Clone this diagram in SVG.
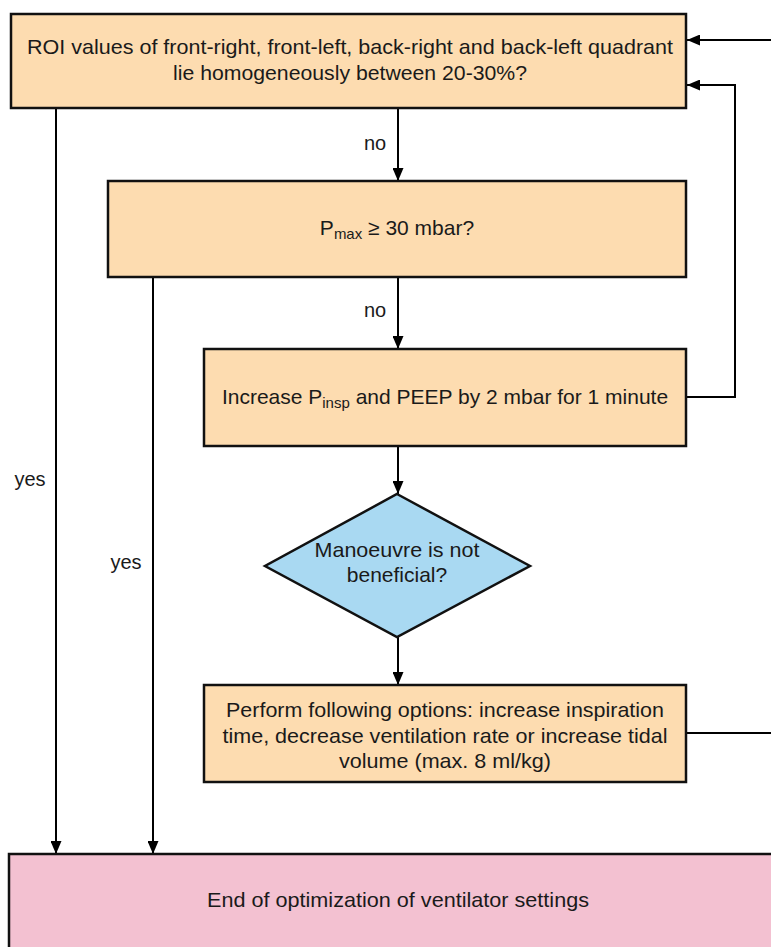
<svg xmlns="http://www.w3.org/2000/svg" width="771" height="947" viewBox="0 0 771 947">
<defs>
<marker id="ah" markerWidth="13" markerHeight="11" refX="13" refY="5.5" orient="auto" markerUnits="userSpaceOnUse">
<path d="M0,0 L13,5.5 L0,11 Z" fill="#000"/>
</marker>
<style>
.box{fill:#FDDCB0;stroke:#111;stroke-width:2.5}
.dia{fill:#A9D9F2;stroke:#111;stroke-width:2.5}
.end{fill:#F3C1D1;stroke:#111;stroke-width:2.5}
.t{font-family:"Liberation Sans",Arial,sans-serif;font-size:21px;fill:#1a1a1a;text-anchor:middle}
.l{font-family:"Liberation Sans",Arial,sans-serif;font-size:20px;fill:#1a1a1a;text-anchor:middle}
.c{fill:none;stroke:#000;stroke-width:2}
</style>
</defs>
<rect width="771" height="947" fill="#fff"/>
<g id="connectors">
<path class="c" d="M771,40 L687,40" marker-end="url(#ah)"/>
<path class="c" d="M686,397 L735,397 L735,85 L687,85" marker-end="url(#ah)"/>
<path class="c" d="M398,108 L398,181" marker-end="url(#ah)"/>
<path class="c" d="M398,277 L398,349" marker-end="url(#ah)"/>
<path class="c" d="M398,446 L398,494" marker-end="url(#ah)"/>
<path class="c" d="M398,637 L398,685" marker-end="url(#ah)"/>
<path class="c" d="M686,733 L771,733"/>
<path class="c" d="M56,108 L56,854" marker-end="url(#ah)"/>
<path class="c" d="M153,277 L153,854" marker-end="url(#ah)"/>
<text class="l" x="375" y="150">no</text>
<text class="l" x="375" y="317">no</text>
<text class="l" x="30" y="486">yes</text>
<text class="l" x="126" y="569">yes</text>
</g>
<g id="n1">
<rect class="box" x="11" y="14" width="675" height="94"/>
<text class="t" x="350" y="54" textLength="646" lengthAdjust="spacingAndGlyphs">ROI values of front-right, front-left, back-right and back-left quadrant</text>
<text class="t" x="350" y="80" textLength="354" lengthAdjust="spacingAndGlyphs">lie homogeneously between 20-30%?</text>
</g>
<g id="n2">
<rect class="box" x="108" y="181" width="578" height="96"/>
<text class="t" x="397" y="235" font-size="21.5">P<tspan font-size="15" dy="4">max</tspan><tspan dy="-4"> ≥ 30 mbar?</tspan></text>
</g>
<g id="n3">
<rect class="box" x="204" y="349" width="482" height="97"/>
<text class="t" x="445" y="404" font-size="21.5">Increase P<tspan font-size="15" dy="4">insp</tspan><tspan dy="-4"> and PEEP by 2 mbar for 1 minute</tspan></text>
</g>
<g id="n4">
<path class="dia" d="M397,494 L530,566 L397,637 L265,566 Z"/>
<text class="t" x="397" y="557" textLength="165" lengthAdjust="spacingAndGlyphs">Manoeuvre is not</text>
<text class="t" x="397" y="582">beneficial?</text>
</g>
<g id="n5">
<rect class="box" x="204" y="685" width="482" height="97"/>
<text class="t" x="445" y="717" textLength="438" lengthAdjust="spacingAndGlyphs">Perform following options: increase inspiration</text>
<text class="t" x="445" y="743" textLength="445" lengthAdjust="spacingAndGlyphs">time, decrease ventilation rate or increase tidal</text>
<text class="t" x="445" y="768" textLength="212" lengthAdjust="spacingAndGlyphs">volume (max. 8 ml/kg)</text>
</g>
<g id="n6">
<rect class="end" x="9" y="854" width="775" height="110"/>
<text class="t" x="398" y="907" textLength="382" lengthAdjust="spacingAndGlyphs">End of optimization of ventilator settings</text>
</g>
</svg>
